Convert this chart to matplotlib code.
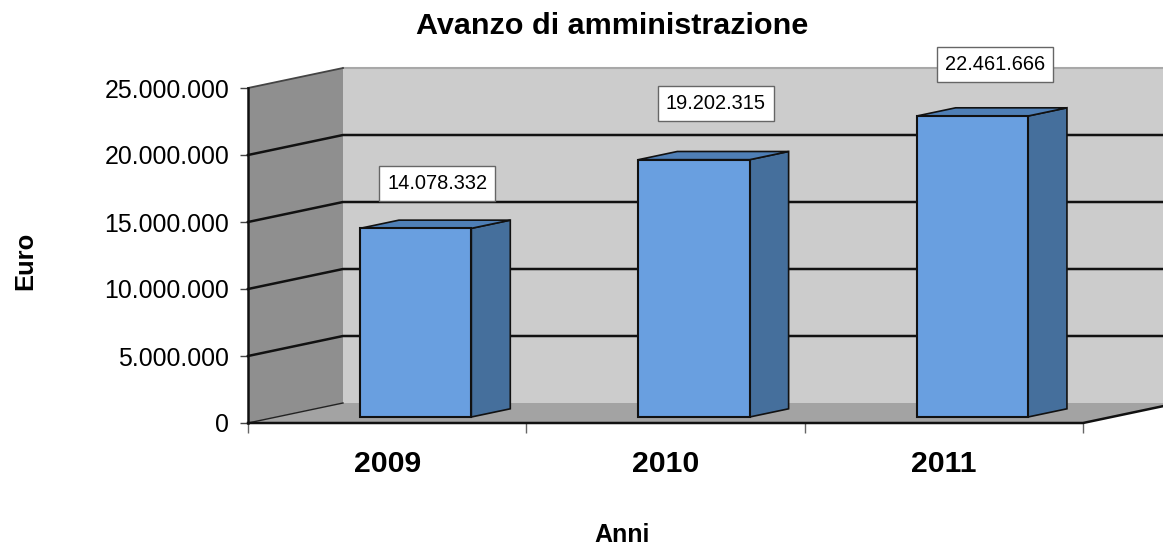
import matplotlib.pyplot as plt
from matplotlib.patches import Polygon
from matplotlib.ticker import FuncFormatter

plt.rcParams['font.family'] = ['Liberation Sans', 'DejaVu Sans']

anni = ['2009', '2010', '2011']
avanzo = [14078332, 19202315, 22461666]
y_ticks = [0, 5000000, 10000000, 15000000, 20000000, 25000000]

W, H = 1163, 546
left, right, top, bottom = 248, 1083, 88, 423
cat_px = (right - left) / 3
eur_px = (bottom - top) / 25000000

# oblique depth of the wall, in data units
depth_x = 95 / cat_px
depth_y = 20 / eur_px
bar_w = 0.4
bar_start = 0.3   # bars sit this far back on the floor
bar_depth = 0.41

def fmt(v):
    return f'{int(v):,}'.replace(',', '.')

fig = plt.figure(figsize=(W / 100, H / 100), dpi=100)
ax = fig.add_axes([left / W, 1 - bottom / H, (right - left) / W, (bottom - top) / H])
ax.set_xlim(0, 3)
ax.set_ylim(0, 25000000)
ax.patch.set_visible(False)
for s in ['top', 'right', 'left', 'bottom']:
    ax.spines[s].set_visible(False)

ymax = y_ticks[-1]

# back wall, side wall, floor
ax.add_patch(Polygon([(depth_x, depth_y), (3 + depth_x, depth_y), (3 + depth_x, ymax + depth_y), (depth_x, ymax + depth_y)],
                     fc='#cccccc', ec='none', clip_on=False, zorder=1))
ax.plot([depth_x, 3 + depth_x], [ymax + depth_y] * 2, color='#a8a8a8', lw=1.5, clip_on=False, zorder=1.5)
ax.add_patch(Polygon([(0, 0), (depth_x, depth_y), (depth_x, ymax + depth_y), (0, ymax)],
                     fc='#8f8f8f', ec='none', clip_on=False, zorder=2))
ax.add_patch(Polygon([(0, 0), (3, 0), (3 + depth_x, depth_y), (depth_x, depth_y)],
                     fc='#a3a3a3', ec='none', clip_on=False, zorder=2))

# gridlines
for v in y_ticks[1:-1]:
    ax.plot([0, depth_x, 3 + depth_x], [v, v + depth_y, v + depth_y], color='#111111', lw=1.8,
            clip_on=False, zorder=3, solid_joinstyle='miter')
ax.plot([0, depth_x], [ymax, ymax + depth_y], color='#444444', lw=1.3, clip_on=False, zorder=3)
ax.plot([0, depth_x], [0, depth_y], color='#222222', lw=1, clip_on=False, zorder=3)
ax.plot([0, 0], [0, ymax], color='#111111', lw=1.8, clip_on=False, zorder=3)
ax.plot([0, 3, 3 + depth_x], [0, 0, depth_y], color='#111111', lw=1.8, clip_on=False, zorder=3)

# bars
for i, v in enumerate(avanzo):
    x0 = i + 0.5 - bar_w / 2 + bar_start * depth_x
    x1 = x0 + bar_w
    y0 = bar_start * depth_y
    y1 = y0 + v
    dx = bar_depth * depth_x
    dy = bar_depth * depth_y
    ax.add_patch(Polygon([(x0, y0), (x1, y0), (x1, y1), (x0, y1)], fc='#699fe0', ec='#111111',
                         lw=1.5, clip_on=False, zorder=5, joinstyle='miter'))
    ax.add_patch(Polygon([(x1, y0), (x1 + dx, y0 + dy), (x1 + dx, y1 + dy), (x1, y1)], fc='#456f9c', ec='#111111',
                         lw=1.2, clip_on=False, zorder=4, joinstyle='miter'))
    ax.add_patch(Polygon([(x0, y1), (x1, y1), (x1 + dx, y1 + dy), (x0 + dx, y1 + dy)], fc='#4f7fb6', ec='#111111',
                         lw=1.2, clip_on=False, zorder=4, joinstyle='miter'))

# value labels, offsets in pixels from the front top edge of the bar
label_dx = [21.5, 21.5, 22.5]
label_dy = [45, 56, 52]
for i, v in enumerate(avanzo):
    xc = i + 0.5 + bar_start * depth_x
    yc = bar_start * depth_y + v
    ax.annotate(fmt(v), (xc, yc), xytext=(label_dx[i] * 0.72, label_dy[i] * 0.72), textcoords='offset points',
                ha='center', va='center', fontsize=14.4, color='black', zorder=6, annotation_clip=False,
                bbox=dict(boxstyle='square,pad=0.4', fc='white', ec='#666666', lw=1))

ax.set_yticks(y_ticks)
ax.yaxis.set_major_formatter(FuncFormatter(lambda v, p: fmt(v)))
ax.tick_params(axis='y', length=6, width=1, color='#444444', labelsize=17.9, pad=7.5)
ax.set_xticks([0, 1, 2, 3])
ax.set_xticklabels([])
ax.tick_params(axis='x', which='major', length=7, width=1, color='#666666')
ax.set_xticks([0.5, 1.5, 2.5], minor=True)
ax.set_xticklabels(anni, minor=True, fontsize=21.7, fontweight='bold')
ax.tick_params(axis='x', which='minor', length=0, pad=19.5)

fig.text(612 / W, 1 - 26 / H, 'Avanzo di amministrazione', ha='center', va='center', fontsize=21.95, fontweight='bold')
fig.text(622 / W, 1 - 535 / H, 'Anni', ha='center', va='center', fontsize=18, fontweight='bold')
fig.text(25 / W, 1 - 261 / H, 'Euro', ha='center', va='center', rotation=90, fontsize=18.4, fontweight='bold')

fig.savefig('out.png', dpi=100)
